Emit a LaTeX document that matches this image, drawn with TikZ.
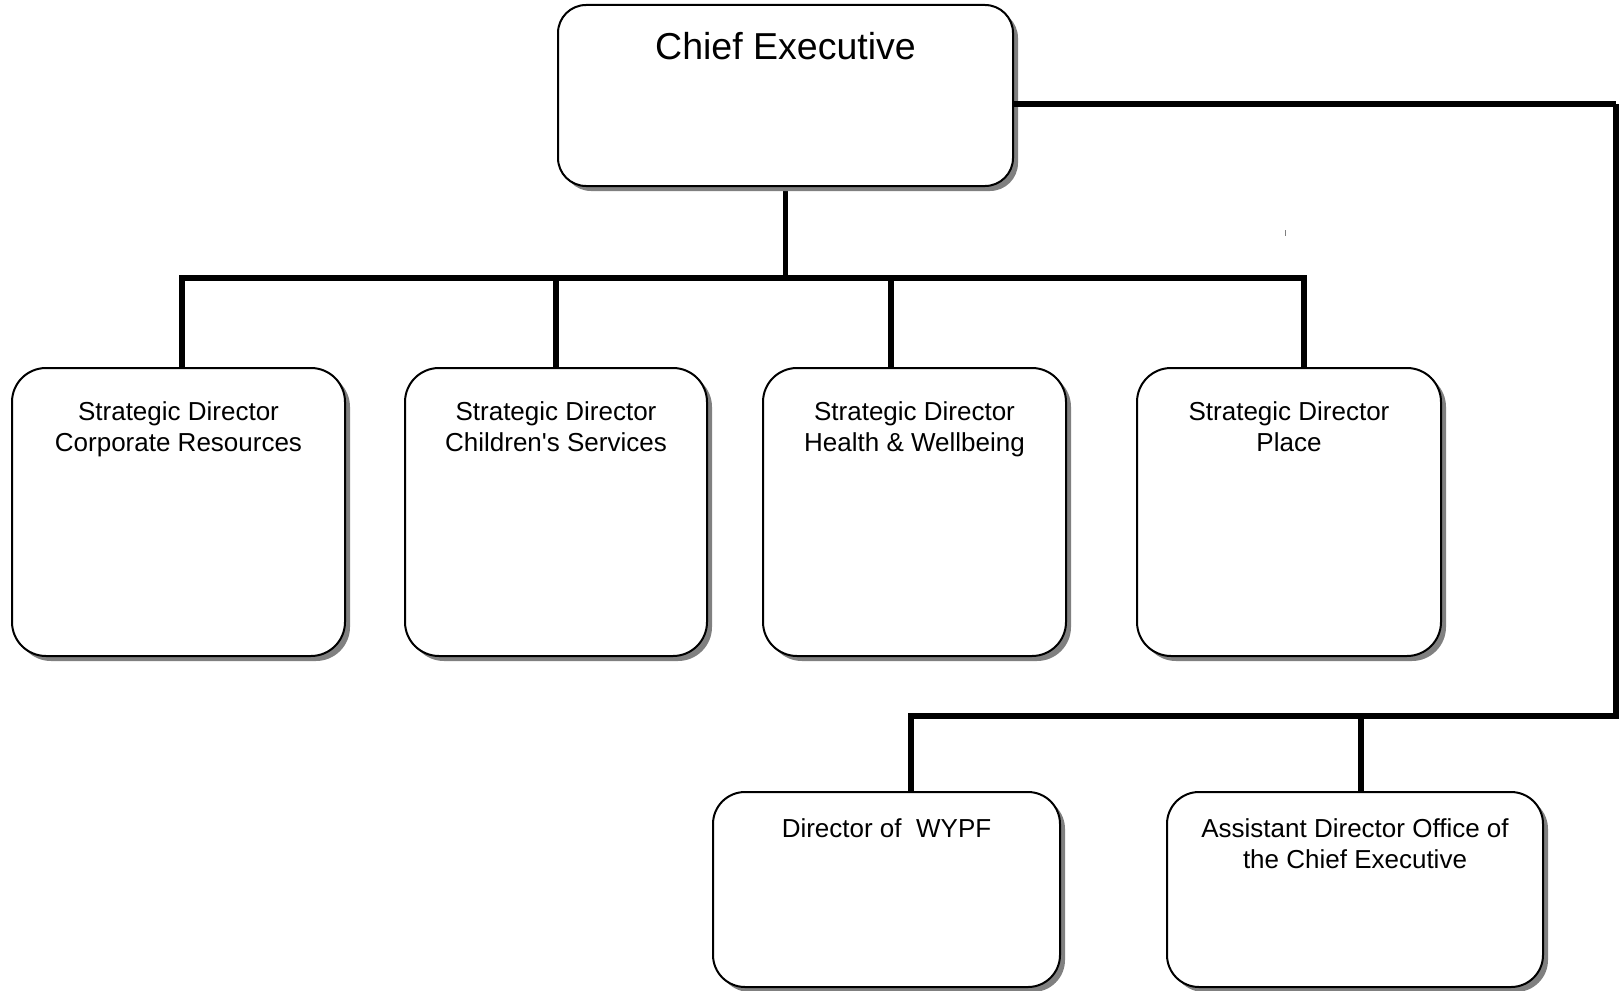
\documentclass[tikz,border=0pt]{standalone}
\usepackage{fontspec}
\setmainfont{Liberation Sans}[Ligatures=TeXOff]
\usetikzlibrary{shadows}
\definecolor{shadowgray}{HTML}{808080}
\tikzset{
  box/.style={draw=black, line width=2pt, fill=white, rounded corners=34pt,
    general shadow={fill=shadowgray, shadow xshift=5pt, shadow yshift=-5pt},
    inner sep=0pt, outer sep=0pt},
  conn/.style={draw=black, line width=5.5pt, line join=miter},
  lbl/.style={anchor=north, align=center, inner sep=0pt, font=\fontsize{26}{31.5}\selectfont},
}
\begin{document}
\begin{tikzpicture}[x=1pt,y=-1pt]
\useasboundingbox (0,0) rectangle (1624,990);
% junction coordinates
\coordinate (j1) at (182,278);
\coordinate (j2) at (556,278);
\coordinate (j3) at (891,278);
\coordinate (j4) at (1304,278);
\coordinate (r1) at (1616,104);
\coordinate (k1) at (911,716);
\coordinate (k2) at (1361,716);
% connectors below the boxes
\coordinate (cs) at (785.5,186);
\draw[conn] (cs) -- (cs |- j1);
\draw[conn] (j1 |- 0,370) -- (j1) -- (j4) -- (j4 |- 0,370);
\draw[conn] (j2) -- (j2 |- 0,370);
\draw[conn] (j3) -- (j3 |- 0,370);
\draw[conn] (r1) |- (k1) -- (k1 |- 0,794);
\draw[conn] (k2) -- (k2 |- 0,794);
% boxes
\node[box, minimum width=455pt, minimum height=181pt, rounded corners=28pt] (ce) at (785.5,95.5) {};
\node[box, minimum width=333pt, minimum height=288pt] (b1) at (178.5,512) {};
\node[box, minimum width=302pt, minimum height=288pt] (b2) at (556,512) {};
\node[box, minimum width=303pt, minimum height=288pt] (b3) at (914.5,512) {};
\node[box, minimum width=304pt, minimum height=288pt] (b4) at (1289,512) {};
\node[box, minimum width=347pt, minimum height=195pt, rounded corners=32pt] (b5) at (886.5,889.5) {};
\node[box, minimum width=376pt, minimum height=195pt, rounded corners=32pt] (b6) at (1355,889.5) {};
% connector from the chief executive to the right trunk
\draw[conn] (r1 -| ce.east) -- (r1);
% labels
\node[lbl, font=\fontsize{37.5}{44}\selectfont] (tce) at (785.5,32) {Chief Executive};
\node[lbl] (t1) at (178.5,401) {Strategic Director\\Corporate Resources};
\node[lbl] (t2) at (556,401) {Strategic Director\\Children's Services};
\node[lbl] (t3) at (914.5,401) {Strategic Director\\Health \& Wellbeing};
\node[lbl] (t4) at (1289,401) {Strategic Director\\Place};
\node[lbl] (t5) at (886.5,818) {Director of~ WYPF};
\node[lbl] (t6) at (1355,818) {Assistant Director Office of\\the Chief Executive};
% stray tick
\draw[line width=1pt, draw=gray] (1285,230) -- (1285,236);
\end{tikzpicture}
\end{document}
